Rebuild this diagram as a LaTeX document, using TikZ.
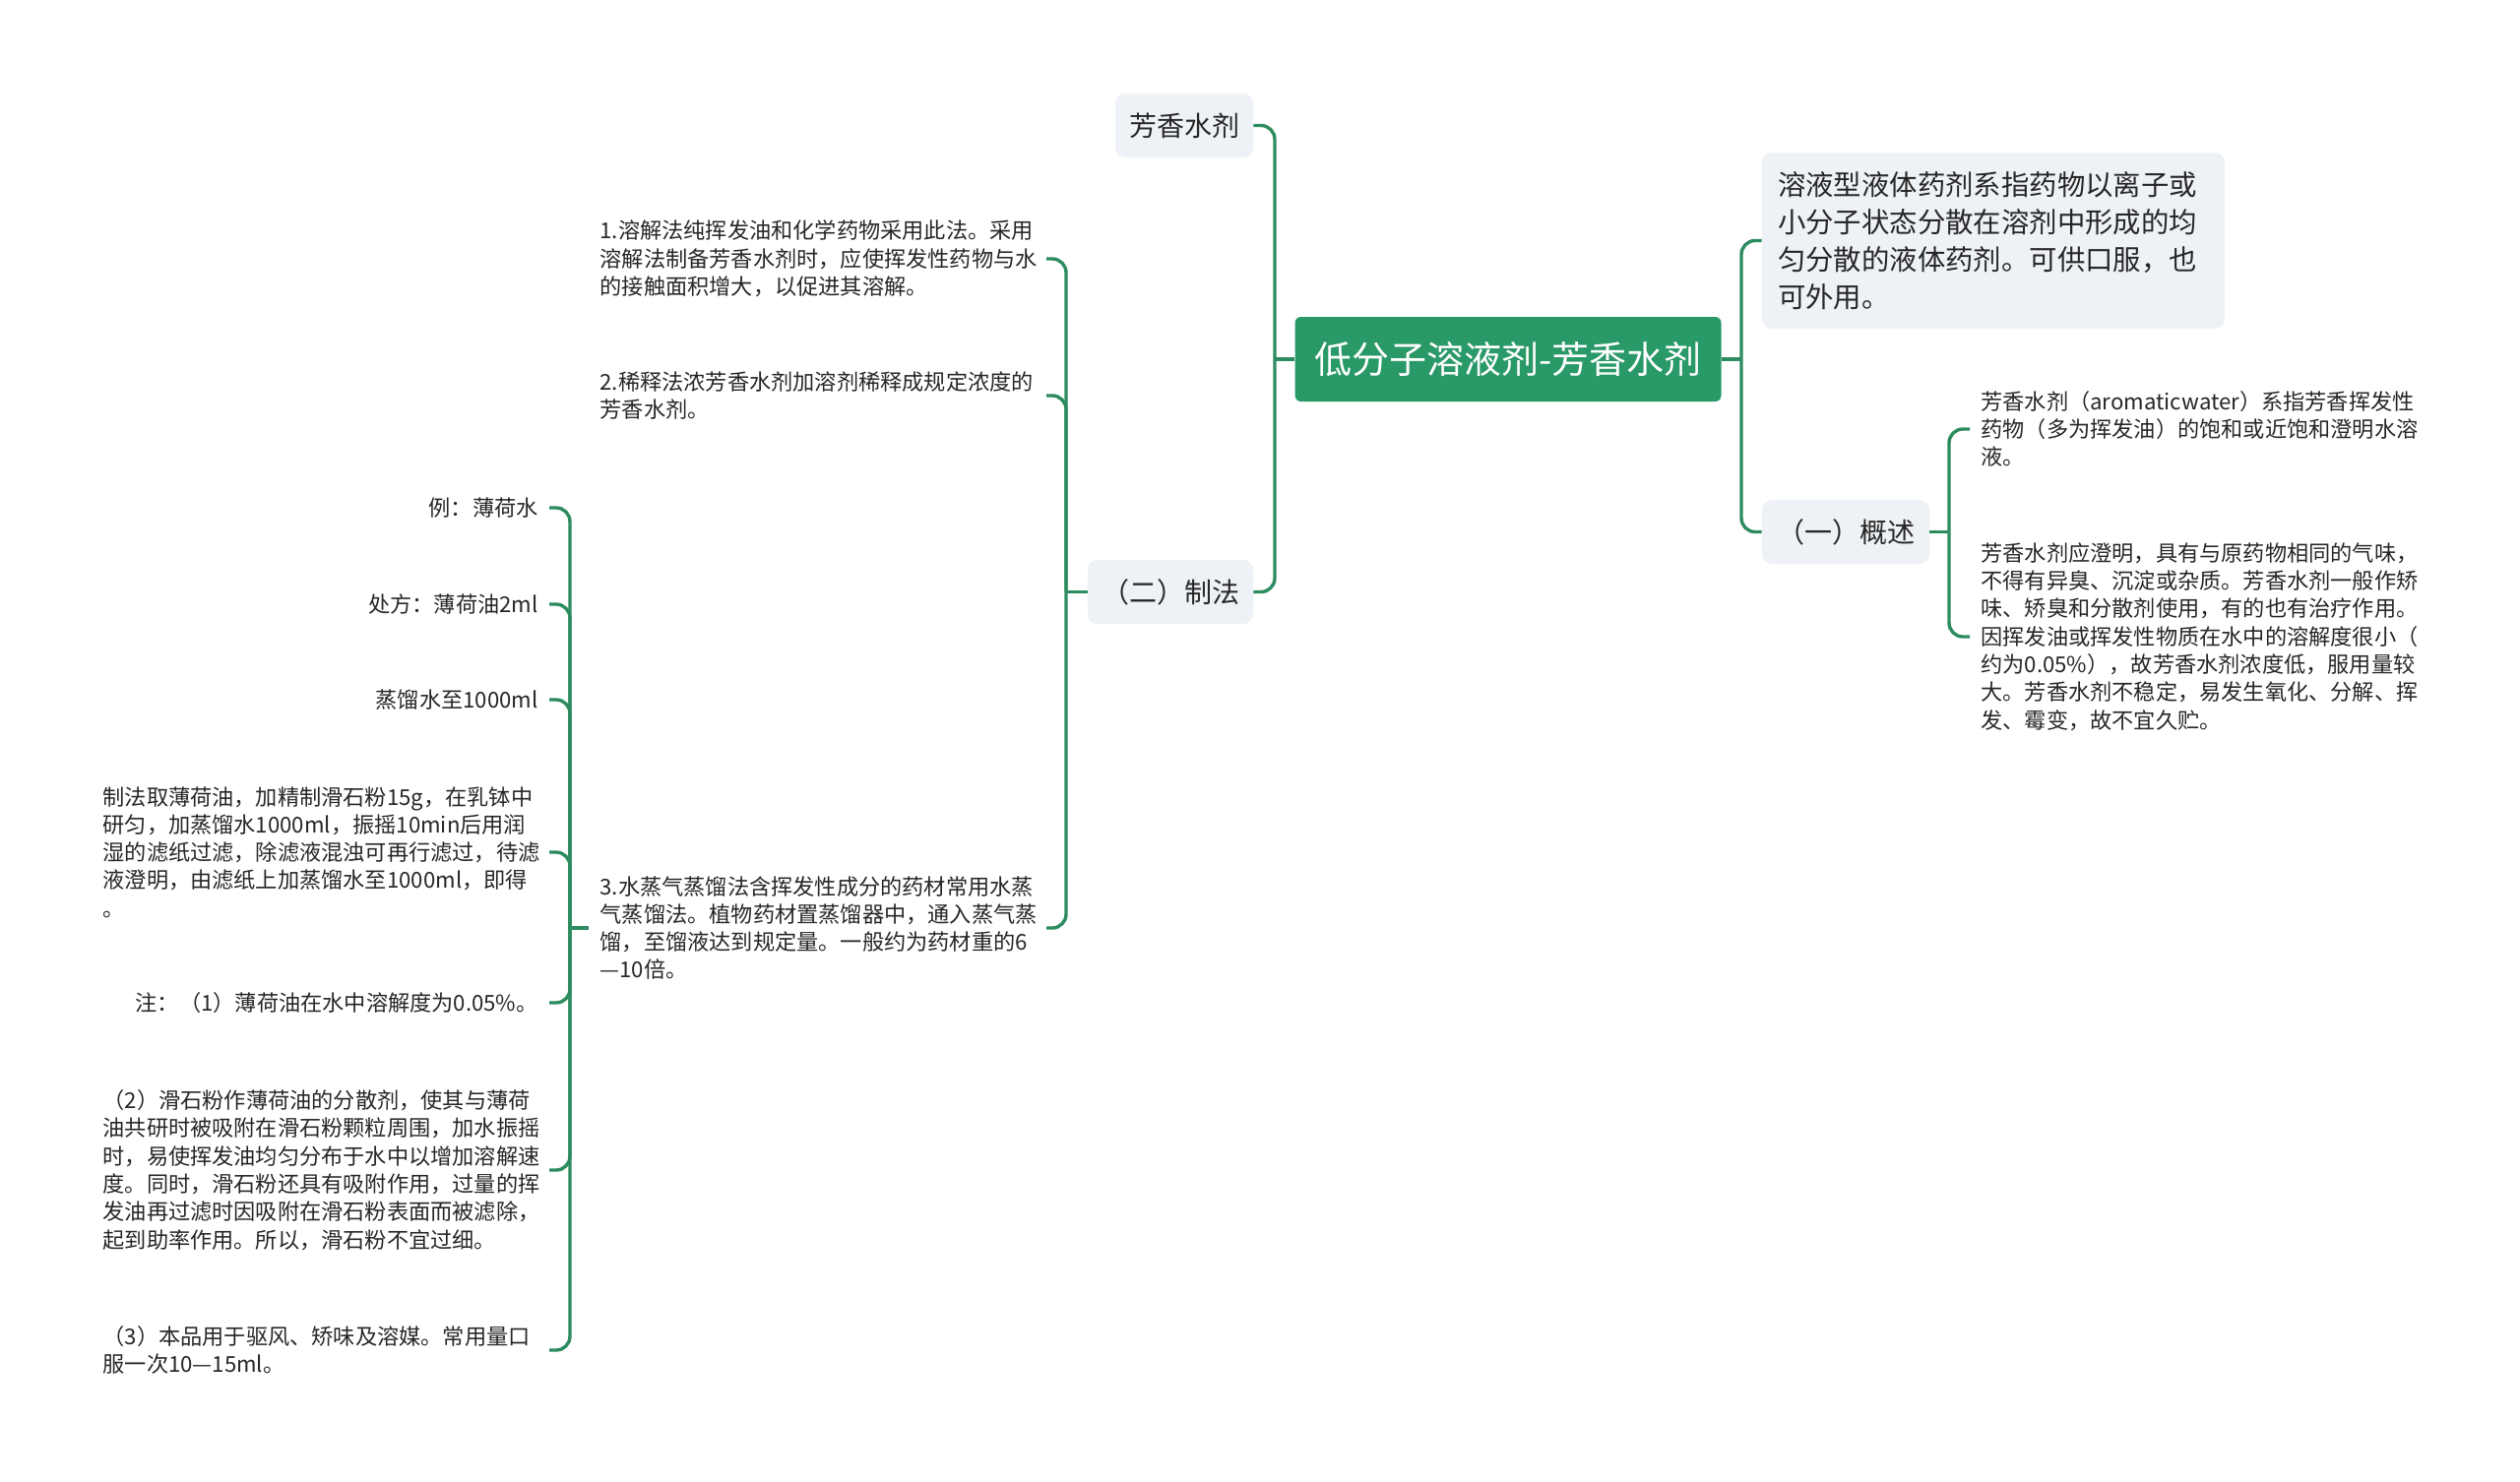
\documentclass[tikz,border=0pt]{standalone}
\usepackage{fontspec}
\setmainfont{Noto Sans CJK SC}
\usepackage{xcolor}
\usepackage{tikz}

\definecolor{rootgreen}{RGB}{42,153,104}
\definecolor{linegreen}{RGB}{45,140,95}
\definecolor{boxgray}{RGB}{238,241,245}
\definecolor{textdark}{RGB}{38,38,38}

\begin{document}
\begin{tikzpicture}[x=0.5pt,y=-0.5pt,
	link/.style={draw=linegreen,line width=1.7pt,rounded corners=7pt},
	rootbox/.style={fill=rootgreen,text=white,rounded corners=3pt,minimum width=216.5pt,minimum height=43pt,font=\fontsize{19pt}{23pt}\selectfont},
	topic/.style={fill=boxgray,text=textdark,rounded corners=5pt,minimum height=32.5pt,font=\fontsize{14pt}{18pt}\selectfont},
	leaf/.style={text=textdark,inner xsep=5.5pt,inner ysep=2pt,text width=221pt,font=\fontsize{11.1pt}{14.15pt}\selectfont},
	leafL/.style={leaf,anchor=east,align=left},
	leafR/.style={leaf,anchor=east,align=right},
	leafW/.style={leaf,anchor=west,align=left}]
	\useasboundingbox (0,0) rectangle (2560,1505);

	\node[rootbox] (root) at (1532,365) {低分子溶液剂-芳香水剂};

	\node[topic,minimum width=70pt] (aroma) at (1203,127.5) {芳香水剂};
	\node[topic,minimum width=84pt] (prep) at (1189,601.5) {（二）制法};
	\node[topic,minimum width=235pt,minimum height=89.5pt,inner xsep=8pt,text width=219pt,align=left,font=\fontsize{14.2pt}{19pt}\selectfont] (defn) at (2025,244.5)
	{溶液型液体药剂系指药物以离子或\\
		小分子状态分散在溶剂中形成的均\\
		匀分散的液体药剂。可供口服，也\\
		可外用。};
	\node[topic,minimum width=85pt] (overview) at (1875,540.5) {（一）概述};

	\node[leafW] (ov1) at (2001,436)
	{芳香水剂（aromaticwater）系指芳香挥发性\\
		药物（多为挥发油）的饱和或近饱和澄明水溶\\
		液。};
	\node[leafW] (ov2) at (2001,647)
	{芳香水剂应澄明，具有与原药物相同的气味，\\
		不得有异臭、沉淀或杂质。芳香水剂一般作矫\\
		味、矫臭和分散剂使用，有的也有治疗作用。\\
		因挥发油或挥发性物质在水中的溶解度很小（\\
		约为0.05\%），故芳香水剂浓度低，服用量较\\
		大。芳香水剂不稳定，易发生氧化、分解、挥\\
		发、霉变，故不宜久贮。};

	\node[leafL] (m1) at (1063,263)
	{1.溶解法纯挥发油和化学药物采用此法。采用\\
		溶解法制备芳香水剂时，应使挥发性药物与水\\
		的接触面积增大，以促进其溶解。};
	\node[leafL] (m2) at (1063,402)
	{2.稀释法浓芳香水剂加溶剂稀释成规定浓度的\\
		芳香水剂。};
	\node[leafL] (m3) at (1063,943)
	{3.水蒸气蒸馏法含挥发性成分的药材常用水蒸\\
		气蒸馏法。植物药材置蒸馏器中，通入蒸气蒸\\
		馏，至馏液达到规定量。一般约为药材重的6\\
		—10倍。};

	\node[leafR] (ex1) at (558,516) {例：薄荷水};
	\node[leafR] (ex2) at (558,614) {处方：薄荷油2ml};
	\node[leafR] (ex3) at (558,711) {蒸馏水至1000ml};
	\node[leafL] (ex4) at (558,866)
	{制法取薄荷油，加精制滑石粉15g，在乳钵中\\
		研匀，加蒸馏水1000ml，振摇10min后用润\\
		湿的滤纸过滤，除滤液混浊可再行滤过，待滤\\
		液澄明，由滤纸上加蒸馏水至1000ml，即得\\
		。};
	\node[leafR] (ex5) at (558,1019) {注：（1）薄荷油在水中溶解度为0.05\%。};
	\node[leafL] (ex6) at (558,1189)
	{（2）滑石粉作薄荷油的分散剂，使其与薄荷\\
		油共研时被吸附在滑石粉颗粒周围，加水振摇\\
		时，易使挥发油均匀分布于水中以增加溶解速\\
		度。同时，滑石粉还具有吸附作用，过量的挥\\
		发油再过滤时因吸附在滑石粉表面而被滤除，\\
		起到助率作用。所以，滑石粉不宜过细。};
	\node[leafL] (ex7) at (558,1372)
	{（3）本品用于驱风、矫味及溶媒。常用量口\\
		服一次10—15ml。};

	\coordinate (rootL) at (1295,365);
	\coordinate (rootR) at (1769,365);
	\coordinate (prepL) at (1083,601.5);
	\coordinate (ovR) at (1980,540.5);
	\coordinate (m3L) at (579,943);

	\draw[link] (root.west) -- (rootL);
	\draw[link] (rootL) |- (aroma.east);
	\draw[link] (rootL) |- (prep.east);
	\draw[link] (root.east) -- (rootR);
	\draw[link] (rootR) |- (defn.west);
	\draw[link] (rootR) |- (overview.west);

	\draw[link] (overview.east) -- (ovR);
	\foreach \n in {ov1,ov2}
		\draw[link] (ovR) |- (\n.west);

	\draw[link] (prep.west) -- (prepL);
	\foreach \n in {m1,m2,m3}
		\draw[link] (prepL) |- (\n.east);

	\draw[link] (m3.west) -- (m3L);
	\foreach \n in {ex1,ex2,ex3,ex4,ex5,ex6,ex7}
		\draw[link] (m3L) |- (\n.east);
\end{tikzpicture}
\end{document}
